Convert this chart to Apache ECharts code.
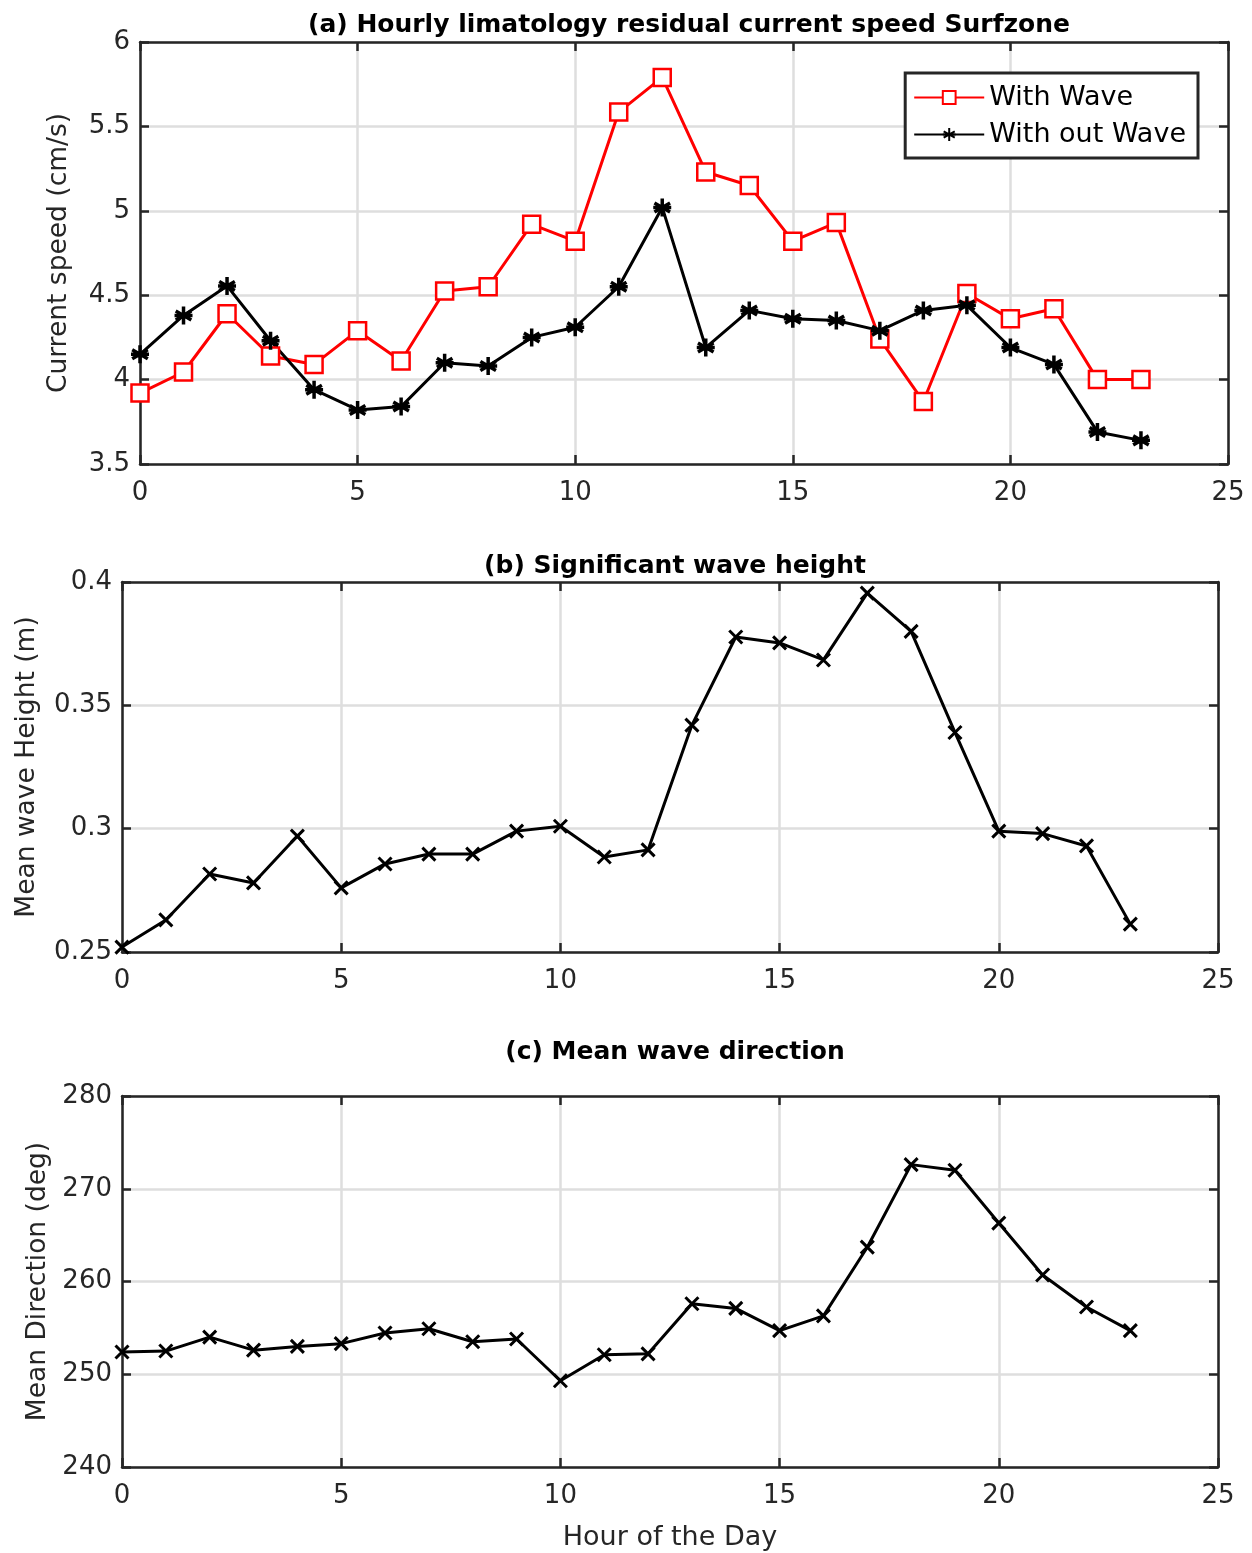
<!DOCTYPE html>
<html>
<head>
<meta charset="utf-8">
<script src="https://cdn.jsdelivr.net/npm/echarts@6/dist/echarts.min.js"></script>
<style>
  html, body { margin: 0; padding: 0; background: #fff; }
  #main { width: 1252px; height: 1553px; }
</style>
</head>
<body>
<div id="main"></div>
<script>
const hours = [0,1,2,3,4,5,6,7,8,9,10,11,12,13,14,15,16,17,18,19,20,21,22,23];
const withWave = [3.92,4.045,4.39,4.14,4.09,4.29,4.11,4.525,4.55,4.92,4.82,5.585,5.79,5.23,5.15,4.82,4.93,4.24,3.87,4.51,4.36,4.42,4.0,4.0];
const withoutWave = [4.15,4.38,4.555,4.23,3.94,3.82,3.84,4.10,4.08,4.25,4.31,4.55,5.02,4.19,4.41,4.36,4.35,4.29,4.41,4.44,4.19,4.09,3.69,3.64];
const waveHeight = [0.252,0.263,0.2816,0.278,0.297,0.276,0.2857,0.2897,0.2897,0.299,0.301,0.2885,0.2914,0.342,0.3777,0.3753,0.3684,0.3955,0.380,0.339,0.299,0.298,0.293,0.2613];
const waveDir = [252.4,252.5,254.0,252.6,253.0,253.3,254.45,254.9,253.5,253.8,249.3,252.1,252.2,257.6,257.1,254.7,256.3,263.7,272.6,272.0,266.3,260.7,257.25,254.7];

const font = 'DejaVu Sans';
const ink = '#262626';
const gridGray = '#dedede';

const star = 'path://M0,-1L0,1M-0.866,-0.5L0.866,0.5M-0.866,0.5L0.866,-0.5M-1,0L1,0';
const cross = 'path://M-1,-1L1,1M-1,1L1,-1';

const pair = (arr) => arr.map((v, i) => [hours[i], v]);

const grids = [
  {left: 140, top: 42, width: 1088, height: 422},
  {left: 122, top: 582, width: 1096, height: 370},
  {left: 122, top: 1096, width: 1096, height: 371}
];

function xAxes(gi, withName) {
  return [
    {
      type: 'value', gridIndex: gi, min: 0, max: 25, interval: 5, position: 'bottom',
      name: withName ? 'Hour of the Day' : '', nameLocation: 'middle', nameGap: 57,
      nameTextStyle: {fontFamily: font, fontSize: 27, color: ink},
      axisLine: {show: true, onZero: false, lineStyle: {color: ink, width: 2.5}},
      axisTick: {show: true, inside: true, length: 9, lineStyle: {color: ink, width: 2.5}},
      axisLabel: {fontFamily: font, fontSize: 26, color: ink, margin: 16},
      splitLine: {show: true, lineStyle: {color: gridGray, width: 2.5}}
    },
    {
      type: 'value', gridIndex: gi, min: 0, max: 25, interval: 5, position: 'top',
      axisLine: {show: true, onZero: false, lineStyle: {color: ink, width: 2.5}},
      axisTick: {show: true, inside: true, length: 9, lineStyle: {color: ink, width: 2.5}},
      axisLabel: {show: false}, splitLine: {show: false}
    }
  ];
}

function yAxes(gi, min, max, interval, name, gap, fmt) {
  return [
    {
      type: 'value', gridIndex: gi, min: min, max: max, interval: interval, position: 'left',
      name: name, nameLocation: 'middle', nameRotate: 90, nameGap: gap,
      nameTextStyle: {fontFamily: font, fontSize: 26.5, color: ink},
      axisLine: {show: true, onZero: false, lineStyle: {color: ink, width: 2.5}},
      axisTick: {show: true, inside: true, length: 9, lineStyle: {color: ink, width: 2.5}},
      axisLabel: {fontFamily: font, fontSize: 26, color: ink, margin: 10, formatter: fmt},
      splitLine: {show: true, lineStyle: {color: gridGray, width: 2.5}}
    },
    {
      type: 'value', gridIndex: gi, min: min, max: max, interval: interval, position: 'right',
      axisLine: {show: true, onZero: false, lineStyle: {color: ink, width: 2.5}},
      axisTick: {show: true, inside: true, length: 9, lineStyle: {color: ink, width: 2.5}},
      axisLabel: {show: false}, splitLine: {show: false}
    }
  ];
}

const chart = echarts.init(document.getElementById('main'));
chart.setOption({
  backgroundColor: '#fff',
  animation: false,
  title: [
    {text: '(a) Hourly limatology residual current speed Surfzone', left: 684, top: 8, textAlign: 'center',
     textStyle: {fontFamily: font, fontSize: 25, fontWeight: 'bold', color: '#000'}},
    {text: '(b) Significant wave height', left: 670, top: 549, textAlign: 'center',
     textStyle: {fontFamily: font, fontSize: 25, fontWeight: 'bold', color: '#000'}},
    {text: '(c) Mean wave direction', left: 670, top: 1035, textAlign: 'center',
     textStyle: {fontFamily: font, fontSize: 25, fontWeight: 'bold', color: '#000'}}
  ],
  legend: {
    right: 54, top: 73, orient: 'vertical',
    backgroundColor: '#fff', borderColor: ink, borderWidth: 3,
    padding: [11, 12, 10, 8], itemGap: 10, itemWidth: 70, itemHeight: 16,
    textStyle: {fontFamily: font, fontSize: 27, color: '#000'},
    data: ['With Wave', 'With out Wave']
  },
  grid: grids,
  xAxis: [...xAxes(0, false), ...xAxes(1, false), ...xAxes(2, true)],
  yAxis: [
    ...yAxes(0, 3.5, 6, 0.5, 'Current speed (cm/s)', 67, (v) => String(v)),
    ...yAxes(1, 0.25, 0.4, 0.05, 'Mean wave Height (m)', 81, (v) => String(+v.toFixed(2))),
    ...yAxes(2, 240, 280, 10, 'Mean Direction (deg)', 69, (v) => String(v))
  ],
  series: [
    {
      name: 'With Wave', type: 'line', xAxisIndex: 0, yAxisIndex: 0,
      data: pair(withWave), symbol: 'rect', symbolSize: 17,
      lineStyle: {color: '#ff0000', width: 3},
      itemStyle: {color: '#fff', borderColor: '#ff0000', borderWidth: 2.5}
    },
    {
      name: 'With out Wave', type: 'line', xAxisIndex: 0, yAxisIndex: 0,
      data: pair(withoutWave), symbol: star, symbolSize: 18,
      lineStyle: {color: '#000', width: 3},
      itemStyle: {color: '#000', borderColor: '#000', borderWidth: 3.5}
    },
    {
      name: 'Hs', type: 'line', xAxisIndex: 2, yAxisIndex: 2,
      data: pair(waveHeight), symbol: cross, symbolSize: 13,
      lineStyle: {color: '#000', width: 3},
      itemStyle: {color: '#000', borderColor: '#000', borderWidth: 3}
    },
    {
      name: 'Dir', type: 'line', xAxisIndex: 4, yAxisIndex: 4,
      data: pair(waveDir), symbol: cross, symbolSize: 13,
      lineStyle: {color: '#000', width: 3},
      itemStyle: {color: '#000', borderColor: '#000', borderWidth: 3}
    }
  ]
});
</script>
</body>
</html>
